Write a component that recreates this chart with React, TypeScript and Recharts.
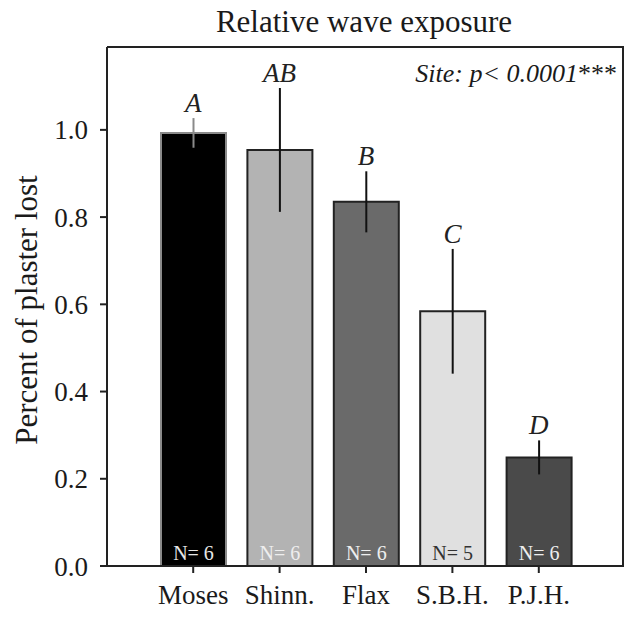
import React from "react";
import {
  ComposedChart,
  Bar,
  Line,
  Cell,
  XAxis,
  YAxis,
  ErrorBar,
  LabelList,
  ReferenceLine,
} from "recharts";

const sites = ["Moses", "Shinn.", "Flax", "S.B.H.", "P.J.H."];
const meanLost = [0.993, 0.954, 0.835, 0.584, 0.249];
const errLost = [0.034, 0.142, 0.07, 0.143, 0.039];
const groupLetters = ["A", "AB", "B", "C", "D"];
const sampleN = [6, 6, 6, 5, 6];
const yTicks = [0, 0.2, 0.4, 0.6, 0.8, 1.0];
const Y_MAX = 1.19;

const barFills = ["#000000", "#b3b3b3", "#6a6a6a", "#e0e0e0", "#4a4a4a"];
const barStrokes = ["#8a8a8a", "#222222", "#222222", "#222222", "#222222"];
const nColors = ["#e6e6e6", "#eeeeee", "#eeeeee", "#333333", "#eeeeee"];

const FONT = "'Liberation Serif', 'Times New Roman', serif";
const INK = "#1a1a1a";
const CHART_W = 626;
const CHART_H = 619;
const X_AXIS_H = 53;
const PLOT_TOP = 47;
const PLOT_RIGHT = 623;

// Moses error bar is grey, the rest are black -> split into two keys
const data = sites.map((site, i) => ({
  site,
  mean: meanLost[i],
  errGrey: i === 0 ? errLost[i] : 0,
  errBlack: i === 0 ? 0 : errLost[i],
  top: meanLost[i] + errLost[i],
  letter: groupLetters[i],
  n: sampleN[i],
}));

const LetterLabel = (props: any) => (
  <text
    x={props.x}
    y={props.y - 15}
    textAnchor="middle"
    dominantBaseline="central"
    fontFamily={FONT}
    fontStyle="italic"
    fontSize={27}
    fill="#222"
  >
    {props.value}
  </text>
);

const NLabel = (props: any) => (
  <text
    x={props.x + props.width / 2}
    y={props.y + props.height - 13}
    textAnchor="middle"
    dominantBaseline="central"
    fontFamily={FONT}
    fontSize={20}
    fill={nColors[props.index]}
  >
    {"N= " + props.value}
  </text>
);

// title, p-value note and the right edge of the frame, hung on the top reference line
const TopDecor = () => (
  <g>
    <text x={364} y={21} textAnchor="middle" dominantBaseline="central" fontFamily={FONT} fontSize={31} fill={INK}>
      Relative wave exposure
    </text>
    <text x={617} y={PLOT_TOP + 26} textAnchor="end" dominantBaseline="central" fontFamily={FONT} fontSize={26} fill={INK}>
      <tspan fontStyle="italic">Site: p&lt; 0.0001</tspan>
      <tspan>***</tspan>
    </text>
    <line
      x1={PLOT_RIGHT}
      y1={PLOT_TOP - 1}
      x2={PLOT_RIGHT}
      y2={CHART_H - X_AXIS_H + 1}
      stroke="#222"
      strokeWidth={2}
    />
  </g>
);

export default function App() {
  return (
    <div style={{ position: "absolute", left: 0, top: 0, width: CHART_W, height: CHART_H, background: "#fff" }}>
      <ComposedChart
        width={CHART_W}
        height={CHART_H}
        data={data}
        margin={{ top: PLOT_TOP, right: CHART_W - PLOT_RIGHT, bottom: 0, left: 0 }}
      >
        <XAxis
          dataKey="site"
          height={X_AXIS_H}
          padding={{ left: 43, right: 41 }}
          tickSize={7}
          tickMargin={12}
          axisLine={{ stroke: "#222", strokeWidth: 2 }}
          tickLine={{ stroke: "#222", strokeWidth: 2 }}
          tick={{ fontFamily: FONT, fontSize: 27, fill: INK }}
        />
        <YAxis
          width={107}
          domain={[0, Y_MAX]}
          ticks={yTicks}
          allowDataOverflow
          tickFormatter={(v: number) => v.toFixed(1)}
          tickSize={7}
          tickMargin={12}
          axisLine={{ stroke: "#222", strokeWidth: 2 }}
          tickLine={{ stroke: "#222", strokeWidth: 2 }}
          tick={{ fontFamily: FONT, fontSize: 27, fill: INK }}
          label={{
            content: () => (
              <text
                x={26}
                y={310}
                transform="rotate(-90 26 310)"
                textAnchor="middle"
                dominantBaseline="central"
                fontFamily={FONT}
                fontSize={31}
                fill={INK}
              >
                Percent of plaster lost
              </text>
            ),
          }}
        />
        {/* top edge of the frame */}
        <ReferenceLine y={Y_MAX} stroke="#222" strokeWidth={2} label={{ content: TopDecor }} />
        <Bar dataKey="mean" barSize={65} strokeWidth={2} isAnimationActive={false}>
          {data.map((d, i) => (
            <Cell key={d.site} fill={barFills[i]} stroke={barStrokes[i]} />
          ))}
          <ErrorBar dataKey="errGrey" direction="y" width={0} stroke="#8a8a8a" strokeWidth={2} />
          <ErrorBar dataKey="errBlack" direction="y" width={0} stroke="#111" strokeWidth={2} />
          <LabelList dataKey="n" content={NLabel} />
        </Bar>
        <Line
          dataKey="top"
          stroke="none"
          dot={false}
          activeDot={false}
          legendType="none"
          isAnimationActive={false}
        >
          <LabelList dataKey="letter" content={LetterLabel} />
        </Line>
      </ComposedChart>
    </div>
  );
}
